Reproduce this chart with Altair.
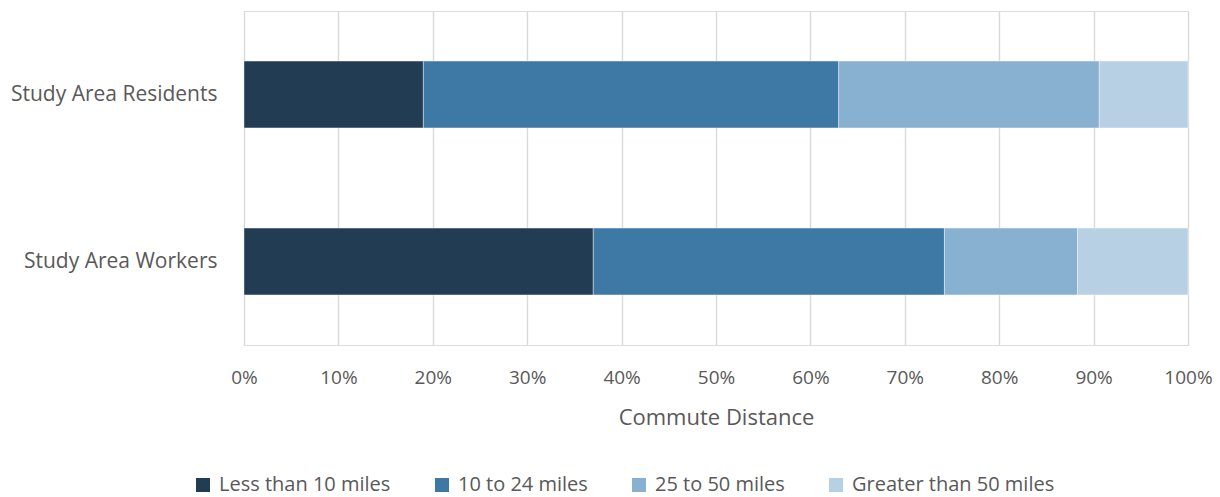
import altair as alt
import pandas as pd

# Commute distance shares (percent of each group)
groups = ["Study Area Residents", "Study Area Workers"]
bands = ["Less than 10 miles", "10 to 24 miles", "25 to 50 miles", "Greater than 50 miles"]
residents = [19.0, 44.0, 27.6, 9.4]
workers = [37.0, 37.2, 14.1, 11.7]
band_colors = ["#223D53", "#3E79A5", "#87B0D1", "#B8D0E3"]
x_ticks = [0, 10, 20, 30, 40, 50, 60, 70, 80, 90, 100]

rows = []
for g, vals in zip(groups, [residents, workers]):
    for i, (b, v) in enumerate(zip(bands, vals)):
        rows.append({"group": g, "band": b, "order": i, "share": v})
df = pd.DataFrame(rows)

FONT = "Open Sans"
TEXT = "#595959"

chart = (
    alt.Chart(df)
    .mark_bar(stroke="#FFFFFF", strokeWidth=0.8, strokeOpacity=0.5)
    .encode(
        x=alt.X(
            "share:Q",
            stack="zero",
            scale=alt.Scale(domain=[0, 100], nice=False),
            axis=alt.Axis(
                values=x_ticks,
                labelExpr="datum.value + '%'",
                title="Commute Distance",
                titleY=79,
                titleBaseline="alphabetic",
                titleFontSize=22,
                titleFontWeight="normal",
                titleColor=TEXT,
                titleFont=FONT,
                labelFont=FONT,
                labelFontSize=19,
                labelColor=TEXT,
                labelBaseline="top",
                labelPadding=23,
                ticks=False,
                tickSize=0,
                domain=False,
                grid=True,
                gridColor="#D9D9D9",
                gridWidth=1.4,
                labelFlush=False,
            ),
        ),
        y=alt.Y(
            "group:N",
            sort=groups,
            scale=alt.Scale(paddingInner=0.6, paddingOuter=0.3),
            axis=alt.Axis(
                title=None,
                labelFont=FONT,
                labelFontSize=21,
                labelColor=TEXT,
                labelPadding=27,
                ticks=False,
                tickSize=0,
                domain=False,
                grid=False,
                labelLimit=400,
            ),
        ),
        color=alt.Color(
            "band:N",
            sort=bands,
            scale=alt.Scale(domain=bands, range=band_colors),
            legend=alt.Legend(
                title=None,
                orient="none",
                direction="horizontal",
                legendX=-51,
                legendY=464,
                symbolType="square",
                symbolSize=196,
                symbolStrokeWidth=0,
                symbolOpacity=1,
                labelFont=FONT,
                labelFontSize=20,
                labelColor=TEXT,
                labelOffset=6,
                columnPadding=41,
                padding=0,
                labelLimit=400,
            ),
        ),
        order=alt.Order("order:Q"),
    )
    .properties(
        width=944,
        height=334,
        autosize=alt.AutoSizeParams(type="none"),
        padding={"left": 244, "top": 11, "right": 32, "bottom": 152},
    )
    .configure_view(stroke=None)
    .configure(background="#FFFFFF")
)

chart.save("out.html", embed_options={"renderer": "svg", "actions": False})
